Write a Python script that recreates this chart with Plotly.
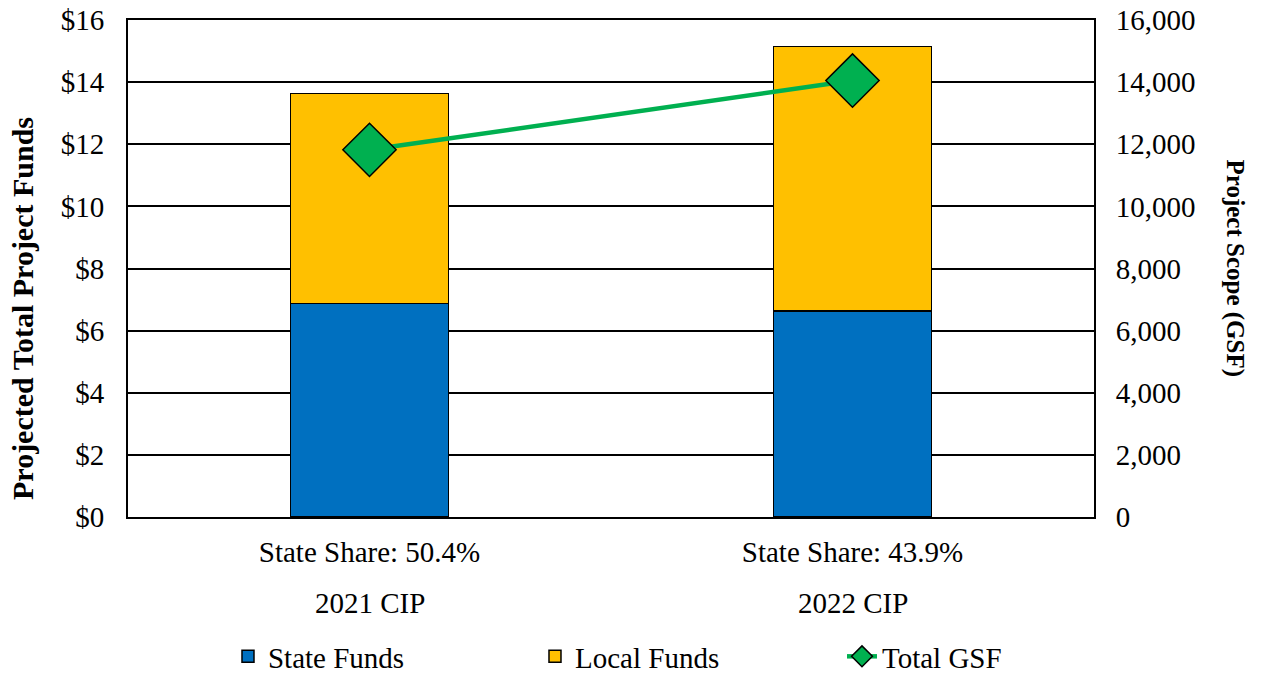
import plotly.graph_objects as go

categories = ["2021 CIP", "2022 CIP"]
share_labels = ["State Share: 50.4%", "State Share: 43.9%"]
state_funds = [6.87, 6.64]
local_funds = [6.76, 8.51]
total_gsf = [11820, 14050]
y_ticks = [0, 2, 4, 6, 8, 10, 12, 14, 16]
y2_ticks = [0, 2000, 4000, 6000, 8000, 10000, 12000, 14000, 16000]

FONT = "Liberation Serif, Times New Roman, serif"
BLUE = "#0070C0"
YELLOW = "#FFC000"
GREEN = "#00B050"

xpos = list(range(len(categories)))

fig = go.Figure()
fig.add_trace(go.Bar(x=xpos, y=state_funds, name="State Funds",
                     marker=dict(color=BLUE, line=dict(color="black", width=1.5))))
fig.add_trace(go.Bar(x=xpos, y=local_funds, name="Local Funds",
                     marker=dict(color=YELLOW, line=dict(color="black", width=1.5))))
fig.add_trace(go.Scatter(x=xpos, y=total_gsf, name="Total GSF", yaxis="y2",
                         mode="lines+markers",
                         line=dict(color=GREEN, width=4.5),
                         marker=dict(symbol="diamond", size=41, color=GREEN,
                                     line=dict(color="black", width=1.5))))

annotations = []
for i, c in enumerate(categories):
    annotations.append(dict(x=i, y=-0.173, xref="x", yref="paper", text=c,
                            showarrow=False, yanchor="middle",
                            font=dict(family=FONT, size=29, color="black")))
annotations.append(dict(x=-0.109, y=0.42, xref="paper", yref="paper",
                        text="<b>Projected Total Project Funds</b>", textangle=-90,
                        showarrow=False, xanchor="center", yanchor="middle",
                        font=dict(family=FONT, size=30, color="black")))
annotations.append(dict(x=1.146, y=0.5, xref="paper", yref="paper",
                        text="<b>Project Scope (GSF)</b>", textangle=90,
                        showarrow=False, xanchor="center", yanchor="middle",
                        font=dict(family=FONT, size=25, color="black")))

fig.update_layout(
    width=1261, height=674,
    margin=dict(l=128, r=167, t=20, b=157, autoexpand=False),
    barmode="stack", bargap=0.673,
    plot_bgcolor="white", paper_bgcolor="white",
    font=dict(family=FONT, size=29, color="black"),
    showlegend=True,
    legend=dict(orientation="h", xref="container", yref="container",
                x=0.1808, y=0.026, xanchor="left", yanchor="middle",
                traceorder="normal",
                entrywidth=262, entrywidthmode="pixels",
                font=dict(family=FONT, size=29, color="black")),
    xaxis=dict(range=[-0.5, 1.5], tickmode="array", tickvals=xpos, ticktext=share_labels,
               showline=True, linecolor="black", linewidth=2, mirror=True,
               showgrid=False, zeroline=False, ticks="", ticklabelstandoff=8,
               automargin=False),
    yaxis=dict(range=[0, 16], tickmode="array", tickvals=y_ticks,
               ticktext=["$" + str(v) for v in y_ticks],
               showline=True, linecolor="black", linewidth=2,
               showgrid=True, gridcolor="black", gridwidth=2, zeroline=False,
               ticks="", ticklabelstandoff=16, automargin=False),
    yaxis2=dict(range=[0, 16000], overlaying="y", side="right", tickmode="array",
                tickvals=y2_ticks, ticktext=[f"{v:,}" for v in y2_ticks],
                showline=True, linecolor="black", linewidth=2, showgrid=False,
                zeroline=False, ticks="", ticklabelstandoff=14, automargin=False),
    annotations=annotations,
)

fig.write_html("out.html", config={"displayModeBar": False},
               post_script="document.body.style.margin='0';document.body.style.overflow='hidden';")
